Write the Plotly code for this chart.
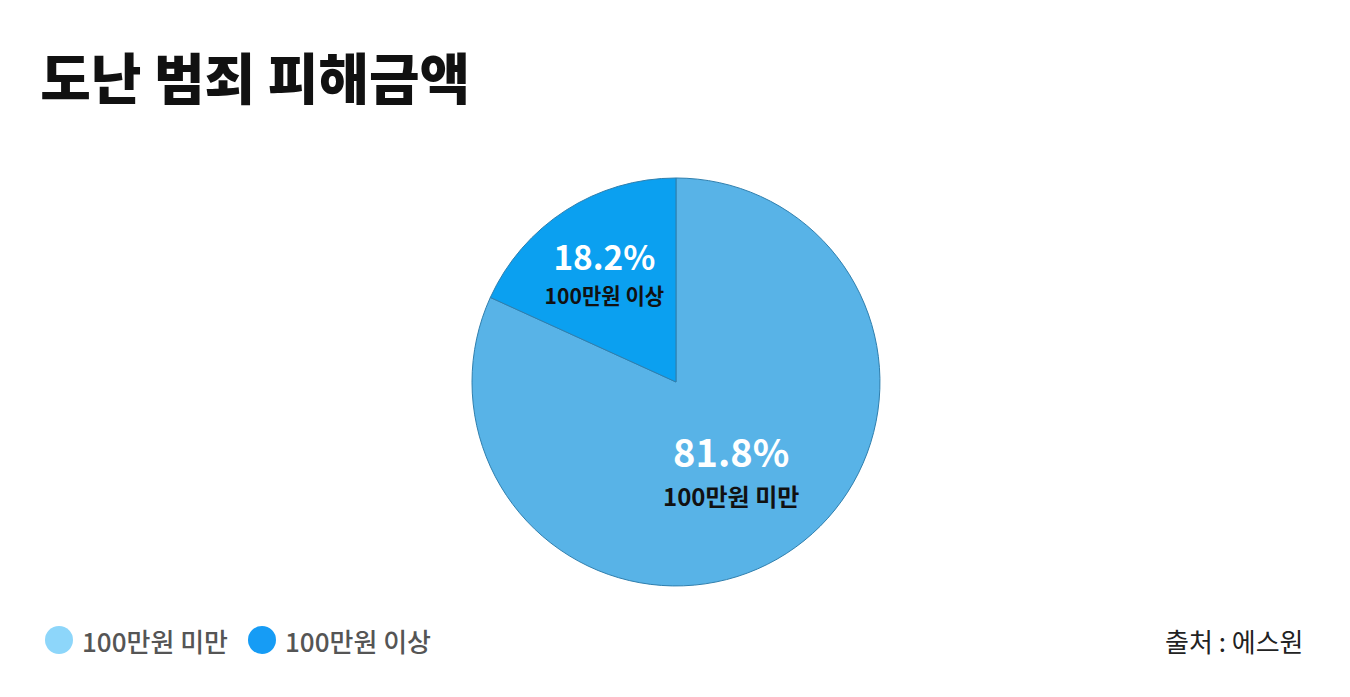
import plotly.graph_objects as go

title = "도난 범죄 피해금액"
labels = ["100만원 미만", "100만원 이상"]
values = [81.8, 18.2]
slice_colors = ["#58b3e7", "#0ba0f0"]
legend_colors = ["#8dd6fa", "#169cf5"]
source = "출처 : 에스원"

font_kr = "Noto Sans CJK KR"
W, H = 1350, 697

fig = go.Figure()

fig.add_trace(go.Pie(
    labels=labels,
    values=values,
    sort=False,
    direction="clockwise",
    rotation=0,
    marker=dict(colors=slice_colors, line=dict(color="#2f7fae", width=1)),
    texttemplate="<span style='font-size:38px;color:white'><b>%{percent:.1%}</b></span><br>"
                 "<span style='font-size:24px'><b>%{label}</b></span>",
    textposition="inside",
    insidetextorientation="horizontal",
    textfont=dict(family=font_kr, size=30, color="#111111"),
    hoverinfo="label+percent",
    showlegend=False,
    domain=dict(x=[0.343, 0.6466], y=[0.1708, 0.7561]),
))

# legend: round swatches + labels along the bottom (page has an 8px body offset)
swatch_x = [37, 240]
text_x = [72, 275]
legend_y = 632
r = 14
shapes = []
annotations = []
for lab, col, sx, tx in zip(labels, legend_colors, swatch_x, text_x):
    shapes.append(dict(
        type="circle", xref="paper", yref="paper",
        x0=sx / W, x1=(sx + 2 * r) / W,
        y0=1 - (legend_y + r) / H, y1=1 - (legend_y - r) / H,
        fillcolor=col, line=dict(width=0),
    ))
    annotations.append(dict(
        text=lab, x=tx / W, xanchor="left", y=1 - legend_y / H, yanchor="middle",
        xref="paper", yref="paper", showarrow=False,
        font=dict(family=font_kr, size=26, color="#555555", weight=500),
    ))

annotations.append(dict(
    text=source, x=1297 / W, xanchor="right", y=1 - legend_y / H, yanchor="middle",
    xref="paper", yref="paper", showarrow=False,
    font=dict(family=font_kr, size=26, color="#222222", weight=400),
))

fig.update_layout(
    width=W, height=H,
    paper_bgcolor="white", plot_bgcolor="white",
    margin=dict(l=0, r=0, t=0, b=0),
    font=dict(family=font_kr),
    showlegend=False,
    title=dict(
        text=title,
        x=0.0238, xanchor="left", y=0.8965, yanchor="middle",
        font=dict(family=font_kr, size=55, color="#111111", weight=900),
    ),
    shapes=shapes,
    annotations=annotations,
)

fig.write_html("out.html")
